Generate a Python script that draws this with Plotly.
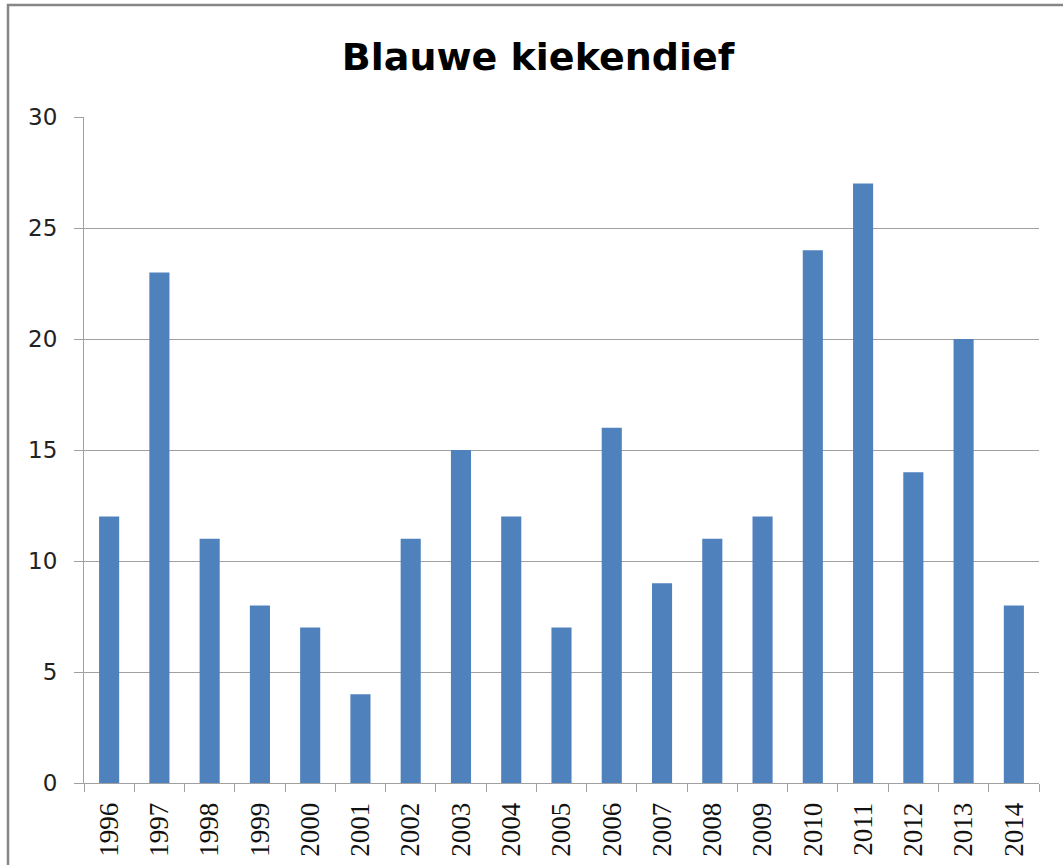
import plotly.graph_objects as go

years = [str(y) for y in range(1996, 2015)]
counts = [12, 23, 11, 8, 7, 4, 11, 15, 12, 7, 16, 9, 11, 12, 24, 27, 14, 20, 8]
y_ticks = [0, 5, 10, 15, 20, 25, 30]

W, H = 1063, 865
L, R, T, B = 84, 24, 117, 82
pw, ph = W - L - R, H - T - B
AX = "#A0A0A0"

fig = go.Figure(go.Bar(x=years, y=counts, marker=dict(color="#4F81BD", line=dict(width=0))))

fig.update_layout(
    width=W, height=H,
    margin=dict(l=L, r=R, t=T, b=B, autoexpand=False),
    paper_bgcolor="white", plot_bgcolor="white",
    bargap=0.6,
    showlegend=False,
    title=dict(text="<b>Blauwe kiekendief</b>", x=(538 - L) / pw, xanchor="center", xref="paper",
               y=1 - 57 / H, yanchor="middle",
               font=dict(family="DejaVu Sans", size=38, color="black")),
    font=dict(family="DejaVu Sans", color="#222"),
)
fig.update_yaxes(range=[0, 30], tickvals=y_ticks, showgrid=True, gridcolor=AX, gridwidth=1,
                 showline=True, linecolor=AX, linewidth=1,
                 ticks="outside", ticklen=9, tickcolor=AX,
                 tickfont=dict(family="DejaVu Sans", size=23, color="#222"),
                 ticklabelstandoff=12, zeroline=False)
fig.update_xaxes(type="category", showline=True, linecolor=AX, linewidth=1,
                 ticks="outside", tickson="boundaries", ticklen=8, tickcolor=AX,
                 tickangle=-90, ticklabelstandoff=8,
                 tickfont=dict(family="Liberation Sans Narrow", size=27, color="#111"),
                 showgrid=False)

# outer chart border (left and top edges visible)
bx0 = (8 - L) / pw
by1 = (H - B - 5) / ph
fig.add_shape(type="rect", xref="paper", yref="paper", x0=bx0, x1=1.2, y0=-0.5, y1=by1,
              line=dict(color="#868686", width=2.5), layer="below")

fig.write_html("out.html", config={"displayModeBar": False},
               post_script="document.body.style.margin='0';document.body.style.padding='0';")
